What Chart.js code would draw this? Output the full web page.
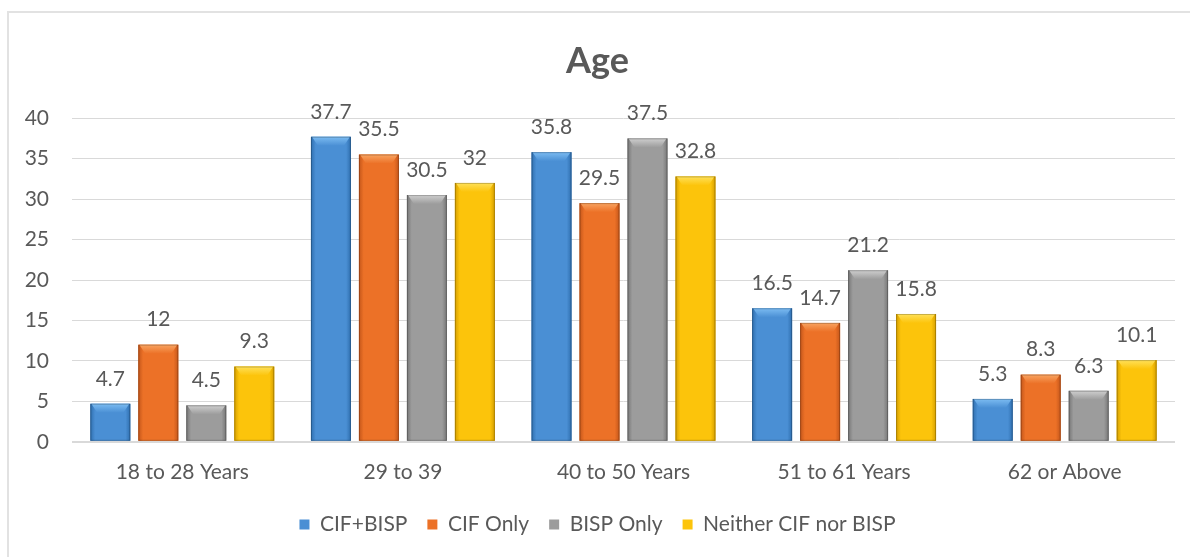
<!DOCTYPE html>
<html>
<head>
<meta charset="utf-8">
<script src="https://cdn.jsdelivr.net/npm/chart.js@4.4.1/dist/chart.umd.min.js"></script>
<style>
  html, body { margin: 0; padding: 0; background: #ffffff; overflow: hidden; }
  #frame {
    position: absolute; left: 7px; top: 11px; width: 1200px; height: 600px;
    border: 2px solid #e2e2e2; box-sizing: border-box;
  }
  #wrap { position: absolute; left: 0; top: 0; width: 1190px; height: 557px; }
</style>
</head>
<body>
<div id="frame"></div>
<div id="wrap"><canvas id="chart"></canvas></div>
<script>
// Age groups and share of respondents (%) per programme group
const categories = ['18 to 28 Years', '29 to 39', '40 to 50 Years', '51 to 61 Years', '62 or Above'];
const cifBisp  = [4.7, 37.7, 35.8, 16.5, 5.3];
const cifOnly  = [12, 35.5, 29.5, 14.7, 8.3];
const bispOnly = [4.5, 30.5, 37.5, 21.2, 6.3];
const neither  = [9.3, 32, 32.8, 15.8, 10.1];
const seriesNames = ['CIF+BISP', 'CIF Only', 'BISP Only', 'Neither CIF nor BISP'];
const yTicks = [0, 5, 10, 15, 20, 25, 30, 35, 40];

const baseColors = ['#4a8fd4', '#ec7127', '#9c9c9c', '#fcc40b'];
const edgeColors = ['#2f6faf', '#c4561a', '#767676', '#d59f00'];
const lightColors = ['#7cbcf2', '#f9a461', '#cfcfcf', '#ffe15a'];
const TEXT = '#595959';
const FONT = 'Lato, "Open Sans", sans-serif';
const FS = 21;

// Bevel look: darker side edges, a light top facet and a thin outline
const bevelPlugin = {
  id: 'bevel',
  afterDatasetsDraw(chart) {
    const ctx = chart.ctx;
    chart.data.datasets.forEach((ds, di) => {
      const meta = chart.getDatasetMeta(di);
      meta.data.forEach((el) => {
        const { x, y, base, width } = el.getProps(['x', 'y', 'base', 'width'], true);
        const l = x - width / 2, r = x + width / 2, h = base - y;
        ctx.save();
        const g = ctx.createLinearGradient(l, 0, r, 0);
        g.addColorStop(0, edgeColors[di]);
        g.addColorStop(0.12, baseColors[di]);
        g.addColorStop(0.88, baseColors[di]);
        g.addColorStop(1, edgeColors[di]);
        ctx.fillStyle = g;
        ctx.fillRect(l, y, width, h);
        const bev = Math.min(9, h / 2);
        const tg = ctx.createLinearGradient(0, y, 0, y + bev);
        tg.addColorStop(0, lightColors[di]);
        tg.addColorStop(1, baseColors[di]);
        ctx.fillStyle = tg;
        ctx.beginPath();
        ctx.moveTo(l + 1, y);
        ctx.lineTo(r - 1, y);
        ctx.lineTo(r - 7, y + bev);
        ctx.lineTo(l + 7, y + bev);
        ctx.closePath();
        ctx.fill();
        ctx.strokeStyle = 'rgba(0,0,0,0.22)';
        ctx.lineWidth = 1;
        ctx.strokeRect(l + 0.5, y + 0.5, width - 1, h - 1);
        ctx.restore();
      });
    });
  }
};

// Value labels above each bar
const valueLabels = {
  id: 'valueLabels',
  afterDatasetsDraw(chart) {
    const ctx = chart.ctx;
    ctx.save();
    ctx.font = FS + 'px ' + FONT;
    ctx.fillStyle = TEXT;
    ctx.textAlign = 'center';
    ctx.textBaseline = 'middle';
    chart.data.datasets.forEach((ds, di) => {
      const meta = chart.getDatasetMeta(di);
      meta.data.forEach((el, i) => {
        ctx.fillText(String(ds.data[i]), el.x, el.y - 25);
      });
    });
    ctx.restore();
  }
};

const seriesData = [cifBisp, cifOnly, bispOnly, neither];

new Chart(document.getElementById('chart'), {
  type: 'bar',
  data: {
    labels: categories,
    datasets: seriesData.map((d, i) => ({
      label: seriesNames[i],
      data: d,
      backgroundColor: baseColors[i],
      borderWidth: 0,
      categoryPercentage: 0.87,
      barPercentage: 0.833
    }))
  },
  options: {
    responsive: true,
    maintainAspectRatio: false,
    animation: false,
    layout: { padding: { left: 20, right: 15, top: 0, bottom: 12 } },
    plugins: {
      title: {
        display: true,
        text: 'Age',
        color: TEXT,
        font: { family: FONT, size: 36, weight: 'bold' },
        padding: { top: 40, bottom: 35 }
      },
      legend: {
        position: 'bottom',
        labels: {
          color: TEXT,
          font: { family: FONT, size: FS },
          boxWidth: 10,
          boxHeight: 10,
          padding: 20
        }
      },
      tooltip: { enabled: false }
    },
    scales: {
      x: {
        grid: { display: false },
        border: { display: false },
        ticks: { color: TEXT, font: { family: FONT, size: FS }, padding: 10 },
        afterFit(s) { s.paddingLeft = 0; s.paddingRight = 0; s.height -= 1; }
      },
      y: {
        min: 0,
        max: 40,
        afterBuildTicks(axis) { axis.ticks = yTicks.map(v => ({ value: v })); },
        afterFit(s) { s.width = 52; },
        grid: {
          color: '#d9d9d9',
          lineWidth: (c) => (c.tick && c.tick.value === 0 ? 2 : 1),
          drawTicks: false
        },
        border: { display: false },
        ticks: { color: TEXT, font: { family: FONT, size: FS }, padding: 23 }
      }
    }
  },
  plugins: [bevelPlugin, valueLabels]
});
</script>
</body>
</html>
